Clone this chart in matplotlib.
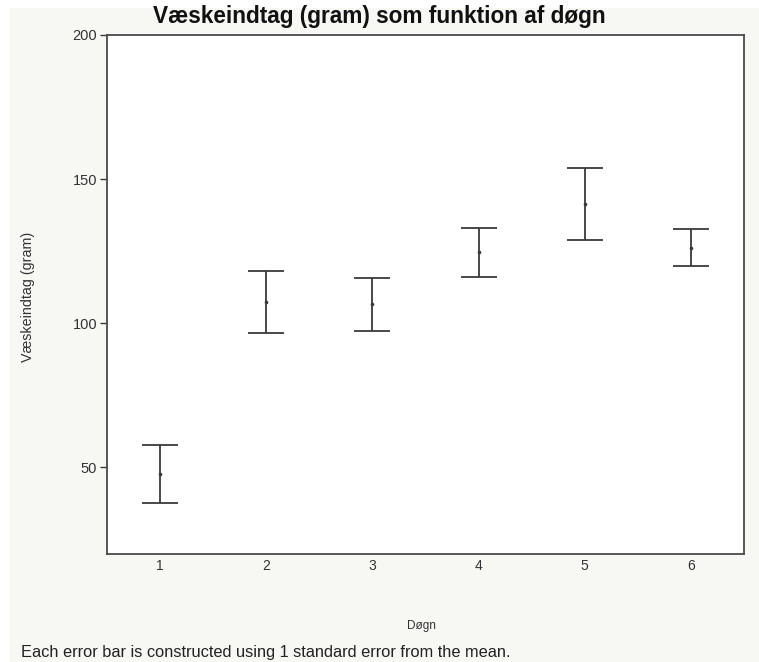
import matplotlib
matplotlib.use("Agg")
import matplotlib.pyplot as plt
from matplotlib.patches import Rectangle

# Mean fluid intake per day with 1 standard error
days = [1, 2, 3, 4, 5, 6]
means = [47.6, 107.3, 106.5, 124.6, 141.3, 126.2]
std_err = [10.0, 10.7, 9.2, 8.5, 12.4, 6.5]
y_ticks = [50, 100, 150, 200]

plt.rcParams['font.family'] = ['Liberation Sans', 'DejaVu Sans']

fig = plt.figure(figsize=(7.59, 6.62), dpi=100, facecolor='#f7f7f4')
# white margin strip along the left and top edges
fig.patches.append(Rectangle((0, 0), 10 / 759, 1, transform=fig.transFigure,
                             facecolor='white', edgecolor='none', zorder=-5))
fig.patches.append(Rectangle((0, 1 - 8 / 662), 1, 8 / 662, transform=fig.transFigure,
                             facecolor='white', edgecolor='none', zorder=-5))

ax = fig.add_axes([107 / 759, 1 - 553.5 / 662, (744 - 107) / 759, (553.5 - 35) / 662])
ax.set_facecolor('white')

line_col = '#3a3a3a'
ax.errorbar(days, means, yerr=std_err, fmt='o', markersize=1.6,
            color=line_col, ecolor=line_col, elinewidth=1.3,
            capsize=13, capthick=1.3)

ax.set_xlim(0.5, 6.5)
ax.set_ylim(20, 200)
ax.set_xticks(days)
ax.set_yticks(y_ticks)
ax.tick_params(axis='x', length=0, pad=4, labelsize=10, labelcolor='#333333')
ax.tick_params(axis='y', length=5, width=1, color=line_col, pad=2,
               labelsize=10.5, labelcolor='#333333')
for sp in ax.spines.values():
    sp.set_color('#4a4a4a')
    sp.set_linewidth(1.3)

fig.text(0.5, 1 - 17 / 662, 'Væskeindtag (gram) som funktion af døgn',
         ha='center', va='center', fontsize=16.3, fontweight='bold', color='#111111')
fig.text(28 / 759, 1 - 297 / 662, 'Væskeindtag (gram)', rotation=90,
         ha='center', va='center', fontsize=10.3, color='#333333')
fig.text(421 / 759, 1 - 626 / 662, 'Døgn', ha='center', va='center',
         fontsize=8.5, color='#333333')
fig.text(21 / 759, 1 - 652 / 662,
         'Each error bar is constructed using 1 standard error from the mean.',
         ha='left', va='center', fontsize=11.8, color='#222222')

fig.savefig('out.png', dpi=100, facecolor=fig.get_facecolor())
